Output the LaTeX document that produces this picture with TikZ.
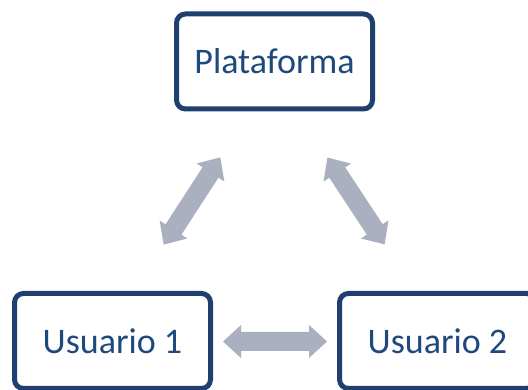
\documentclass[tikz,border=0pt]{standalone}
\usepackage{fontspec}
\setmainfont{Carlito}
\definecolor{boxline}{RGB}{31,63,110}
\definecolor{boxtext}{RGB}{31,73,125}
\definecolor{arrowgray}{RGB}{170,176,192}
\tikzset{
  box/.style={draw=boxline, line width=5pt, rounded corners=9pt, fill=white,
    minimum width=196pt, minimum height=95pt, inner sep=0pt,
    text=boxtext, font=\fontsize{36}{40}\selectfont},
  dblarrow/.pic={
    \fill[arrowgray] (-52,0) -- (-34,16.5) -- (-34,9.5) -- (34,9.5) -- (34,16.5)
      -- (52,0) -- (34,-16.5) -- (34,-9.5) -- (-34,-9.5) -- (-34,-16.5) -- cycle;
  }
}
\begin{document}
\begin{tikzpicture}[x=1pt,y=1pt]
\clip (0,0) rectangle (528,390);
\node[box] (plat) at (274.5,328.5) {Plataforma};
\node[box] (u1) at (112.5,49) {Usuario 1};
\node[box] (u2) at (437.5,49) {Usuario 2};
\coordinate (aleft) at (192,189);
\coordinate (aright) at (356,189);
\coordinate (abottom) at (275,48.5);
\pic[rotate=57] at (aleft) {dblarrow};
\pic[rotate=-56.6] at (aright) {dblarrow};
\pic at (abottom) {dblarrow};
\end{tikzpicture}
\end{document}
